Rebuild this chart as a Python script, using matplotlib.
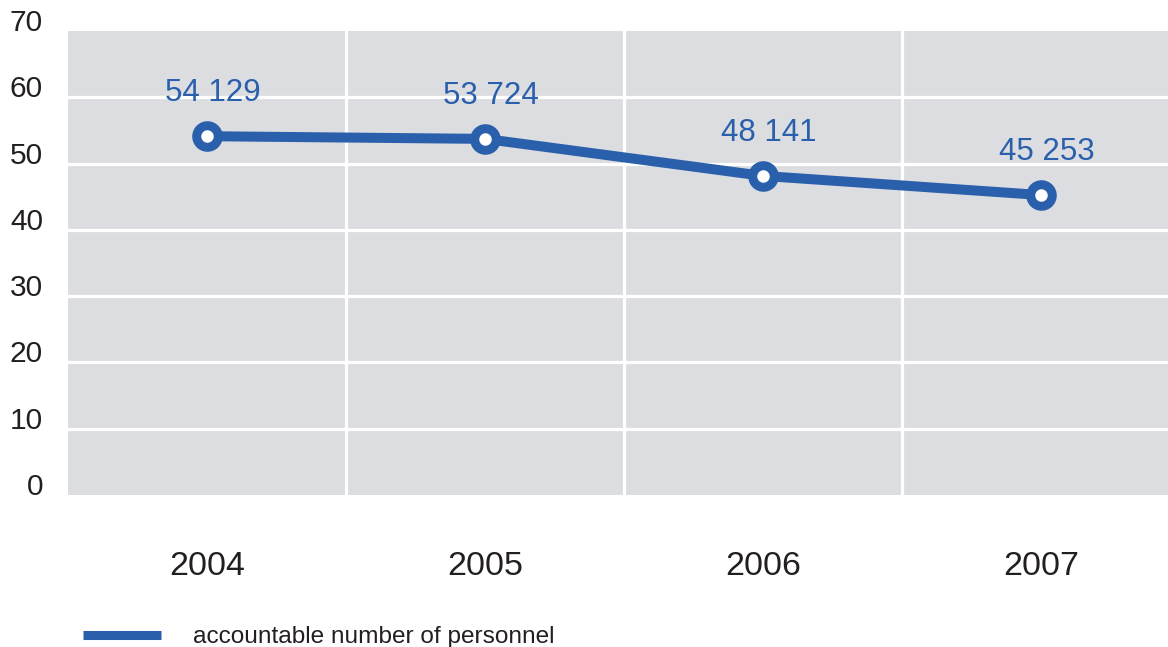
import matplotlib
matplotlib.use("Agg")
import matplotlib.pyplot as plt

plt.rcParams["font.family"] = ["Liberation Sans", "DejaVu Sans"]

# headcount per year, thousands of people
years = ["2004", "2005", "2006", "2007"]
personnel = [54.129, 53.724, 48.141, 45.253]
y_ticks = [0, 10, 20, 30, 40, 50, 60, 70]
series_name = "accountable number of personnel"

BLUE = "#2a5fac"
GREY = "#dcdde0"
TEXT = "#231f20"

W, H = 1168, 647
fig = plt.figure(figsize=(W / 100, H / 100), dpi=100)
# plot area runs past the right edge on purpose
ax = fig.add_axes([68 / W, 1 - 495 / H, (1180 - 68) / W, (495 - 31) / H])
ax.set_facecolor(GREY)
for s in ax.spines.values():
    s.set_visible(False)

x = list(range(len(years)))
ax.set_xlim(-0.5, len(years) - 0.5)
ax.set_ylim(0, 70)

# white grid: horizontal at each tick, vertical between the years
for v in y_ticks[1:-1]:
    ax.axhline(v, color="white", lw=2.3, zorder=1)
for i in range(1, len(years)):
    ax.axvline(i - 0.5, color="white", lw=2.3, zorder=1)

ax.plot(x, personnel, color=BLUE, lw=7.2, solid_capstyle="butt", zorder=3,
        marker="o", ms=15.5, mew=6.5, mec=BLUE, mfc="white")

for xi, v in zip(x, personnel):
    label = f"{round(v * 1000):,}".replace(",", " ")
    ax.annotate(label, (xi, v), xytext=(4, 20), textcoords="offset points",
                ha="center", va="bottom", fontsize=22.5, color=BLUE, zorder=4)

ax.set_xticks(x, years)
ax.set_yticks(y_ticks, [str(t) for t in y_ticks])
ax.tick_params(axis="x", length=0, pad=40, labelsize=24.5, labelcolor=TEXT)
ax.tick_params(axis="y", length=0, pad=18, labelsize=21.5, labelcolor=TEXT)
for t in ax.get_yticklabels():
    t.set_verticalalignment("baseline")

# legend drawn by hand under the axis
fig.add_artist(plt.Line2D([83 / W, 161 / W], [1 - 635 / H] * 2,
                          color=BLUE, lw=6.5, solid_capstyle="butt",
                          transform=fig.transFigure))
fig.text(193 / W, 1 - 643 / H, series_name, fontsize=17.6, color=TEXT,
         ha="left", va="baseline")

fig.savefig("out.png", dpi=100)
